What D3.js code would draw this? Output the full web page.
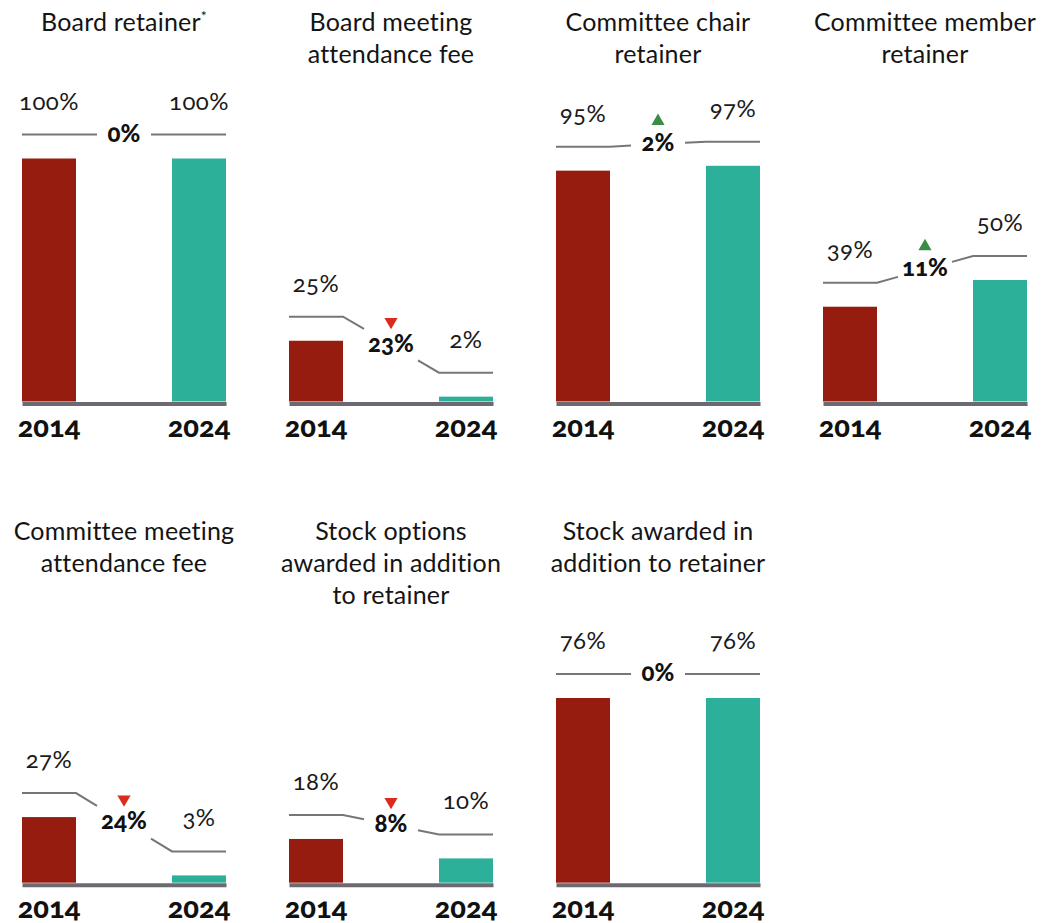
<!DOCTYPE html>
<html><head><meta charset="utf-8">
<script src="https://cdn.jsdelivr.net/npm/d3@7"></script>
<style>
body{margin:0;background:#fff}
svg text{font-family:Lato,"Open Sans","Noto Sans",sans-serif;font-variant-numeric:oldstyle-nums;font-feature-settings:"onum" 1;}
</style></head><body>
<svg id="chart" width="1053" height="923"></svg>
<script>
const titles = [
  ["Board retainer"],
  ["Board meeting", "attendance fee"],
  ["Committee chair", "retainer"],
  ["Committee member", "retainer"],
  ["Committee meeting", "attendance fee"],
  ["Stock options", "awarded in addition", "to retainer"],
  ["Stock awarded in", "addition to retainer"]
];
const footnoteMark = ["*", "", "", "", "", "", ""];
const years = ["2014", "2024"];
const values2014 = [100, 25, 95, 39, 27, 18, 76];
const values2024 = [100, 2, 97, 50, 3, 10, 76];

const colors = {"2014": "#951c0e", "2024": "#2db09a"};
const svg = d3.select("#chart");

const panelW = 204, colStep = 267, left0 = 22;
const rowBase = [401.5, 882.7];
const rowTitle = [31, 540];
const maxH = 243;

titles.forEach((t, i) => {
  const col = i % 4, row = Math.floor(i / 4);
  const px = left0 + col * colStep;
  const baseY = rowBase[row];
  const g = svg.append("g").attr("transform", `translate(${px},0)`);
  const vals = {"2014": values2014[i], "2024": values2024[i]};

  const x = d3.scaleBand().domain(years).range([0, panelW]).paddingInner(0.64).paddingOuter(0);
  const y = d3.scaleLinear().domain([0, 100]).range([baseY, baseY - maxH]);
  const cx = panelW / 2;

  // title
  const tt = g.append("text").attr("x", cx).attr("y", rowTitle[row])
    .attr("text-anchor", "middle").attr("font-size", 25).attr("fill", "#141414")
    .attr("letter-spacing", 0.2);
  t.forEach((line, k) => {
    tt.append("tspan").attr("x", cx).attr("dy", k === 0 ? 0 : 32).text(line);
  });
  if (footnoteMark[i]) {
    tt.append("tspan").attr("font-size", 14).attr("dy", -10).text(footnoteMark[i]);
  }

  // bars
  g.selectAll("rect.bar").data(years).join("rect").attr("class", "bar")
    .attr("x", d => x(d)).attr("width", x.bandwidth())
    .attr("y", d => y(vals[d])).attr("height", d => baseY - y(vals[d]))
    .attr("fill", d => colors[d]);

  // axis
  const ax = g.append("g").attr("transform", `translate(0,${baseY + 2})`)
    .call(d3.axisBottom(x).tickSize(0).tickSizeOuter(0));
  ax.select(".domain").attr("stroke", "#6d6970").attr("stroke-width", 4);
  ax.selectAll(".tick text").attr("dy", null).attr("y", 33.5)
    .attr("font-size", 29).attr("font-weight", 900).attr("fill", "#111")
    .attr("font-family", "Lato, sans-serif");

  // connector
  const Y1 = y(vals["2014"]) - 24, Y2 = y(vals["2024"]) - 24;
  const xa0 = x("2014"), xa1 = x("2014") + x.bandwidth();
  const xb0 = x("2024"), xb1 = x("2024") + x.bandwidth();
  const gap = 27;
  const interp = xx => Y1 + (Y2 - Y1) * (xx - xa1) / (xb0 - xa1);
  const line = d3.line();
  g.append("path").attr("d", line([[xa0, Y1], [xa1, Y1], [cx - gap, interp(cx - gap)]]))
    .attr("fill", "none").attr("stroke", "#78747b").attr("stroke-width", 2);
  g.append("path").attr("d", line([[cx + gap, interp(cx + gap)], [xb0, Y2], [xb1, Y2]]))
    .attr("fill", "none").attr("stroke", "#78747b").attr("stroke-width", 2);

  // value labels
  g.selectAll("text.val").data(years).join("text").attr("class", "val")
    .attr("x", d => x(d) + x.bandwidth() / 2).attr("y", d => y(vals[d]) - 24 - 25)
    .attr("text-anchor", "middle").attr("font-size", 24).attr("font-weight", 400)
    .attr("letter-spacing", 0.5).attr("fill", "#1a1a1a")
    .text(d => vals[d] + "%");

  // change label
  const diff = vals["2024"] - vals["2014"];
  const midY = (Y1 + Y2) / 2 + 7;
  g.append("text").attr("x", cx).attr("y", midY).attr("text-anchor", "middle")
    .attr("font-size", 24).attr("font-weight", 900).attr("fill", "#111")
    .text(Math.abs(diff) + "%");
  if (diff !== 0) {
    g.append("path")
      .attr("d", d3.symbol(d3.symbolTriangle, 75)())
      .attr("transform", `translate(${cx},${midY - 30}) rotate(${diff < 0 ? 180 : 0})`)
      .attr("fill", diff < 0 ? "#dc2a1b" : "#3a8d45");
  }
});
</script>
</body></html>
